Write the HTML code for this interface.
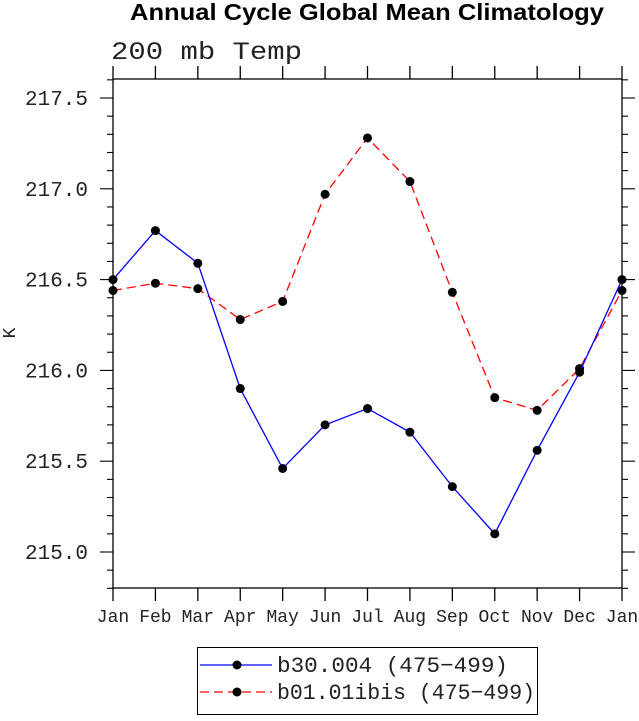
<!DOCTYPE html>
<html><head><meta charset="utf-8"><style>
body{margin:0;background:#fff;width:639px;height:716px;overflow:hidden}
svg text{font-family:"Liberation Mono",monospace;fill:#222}
</style></head><body>
<svg id="chart" width="639" height="716" xmlns="http://www.w3.org/2000/svg">
<text x="130" y="20" textLength="474" lengthAdjust="spacingAndGlyphs" style="font-family:'Liberation Sans',sans-serif;font-weight:bold;font-size:23px;fill:#000">Annual Cycle Global Mean Climatology</text>
<text x="111" y="59" textLength="191" lengthAdjust="spacingAndGlyphs" style="font-size:25px">200 mb Temp</text>
<text transform="translate(15,333) rotate(-90)" text-anchor="middle" style="font-size:18px">K</text>
<g id="axes"></g>
<g id="series"></g>
<g>
<rect x="197.5" y="647.5" width="340" height="67" fill="none" stroke="#000" stroke-width="1"/>
<g>
<line x1="200" y1="665" x2="272" y2="665" stroke="#0000ff" stroke-width="1.3"/>
<circle cx="237" cy="665" r="4.5" fill="#000"/>
<text x="277" y="672" textLength="231" lengthAdjust="spacingAndGlyphs" style="font-size:22px">b30.004 (475−499)</text></g>
<g>
<line x1="200" y1="692" x2="272" y2="692" stroke="#ff0000" stroke-width="1.3" stroke-dasharray="9,5"/>
<circle cx="237" cy="692" r="4.5" fill="#000"/>
<text x="277" y="699" textLength="258" lengthAdjust="spacingAndGlyphs" style="font-size:22px">b01.01ibis (475−499)</text></g>
</g>
</svg>
<script>
const months=["Jan","Feb","Mar","Apr","May","Jun","Jul","Aug","Sep","Oct","Nov","Dec","Jan"];
const yTicks=[215.0,215.5,216.0,216.5,217.0,217.5];
const seriesB30=[216.50,216.77,216.59,215.90,215.46,215.70,215.79,215.66,215.36,215.10,215.56,215.99,216.50];
const seriesB01=[216.44,216.48,216.45,216.28,216.38,216.97,217.28,217.04,216.43,215.85,215.78,216.01,216.44];
const L=113,R=622,T=79,B=588;
const x=i=>L+i*(R-L)/12;
const y=v=>552-(v-215)*181.6;
const NS="http://www.w3.org/2000/svg";
function mk(tag,attrs,parent){const e=document.createElementNS(NS,tag);for(const k in attrs)e.setAttribute(k,attrs[k]);parent.appendChild(e);return e;}
const ax=document.getElementById('axes');
const frame=mk('rect',{x:L,y:T,width:R-L,height:B-T,fill:'none',stroke:'#000','stroke-width':1.3},ax);


months.forEach((m,i)=>{
  const xx=x(i);
  mk('line',{x1:xx,y1:B,x2:xx,y2:B+13,stroke:'#000','stroke-width':1.3},ax);
  mk('line',{x1:xx,y1:T,x2:xx,y2:T-13,stroke:'#000','stroke-width':1.3},ax);
  const t=mk('text',{x:xx,y:B+34,'text-anchor':'middle','font-size':'18'},ax);
  t.textContent=m;
  
  
});
for(let k=0;k<=28;k++){
  const v=214.8+k*0.1;const yy=y(v);
  if(yy<T-0.5||yy>B+0.5)continue;
  const major=Math.abs(((v-215)/0.5)-Math.round((v-215)/0.5))<1e-6;
  const len=major?13:6;
  mk('line',{x1:L,y1:yy,x2:L-len,y2:yy,stroke:'#000','stroke-width':1.1},ax);
  mk('line',{x1:R,y1:yy,x2:R+len,y2:yy,stroke:'#000','stroke-width':1.1},ax);
}
yTicks.forEach(v=>{
  const t=mk('text',{x:88,y:y(v)+7,'text-anchor':'end','font-size':'21'},ax);
  t.textContent=v.toFixed(1);
  
  
});
const sg=document.getElementById('series');
function draw(vals,color,dash,name){
  const g=mk('g',{},sg);
  
  
  const p=mk('polyline',{points:vals.map((v,i)=>x(i)+','+y(v)).join(' '),fill:'none',stroke:color,'stroke-width':1.3},g);
  if(dash)p.setAttribute('stroke-dasharray',dash);
  vals.forEach((v,i)=>{
    const c=mk('circle',{cx:x(i),cy:y(v),r:4.5,fill:'#000'},g);
    
    
  });
}
draw(seriesB01,'#ff0000','9,5','series-b01-01ibis');
draw(seriesB30,'#0000ff',null,'series-b30-004');
</script>
</body></html>
